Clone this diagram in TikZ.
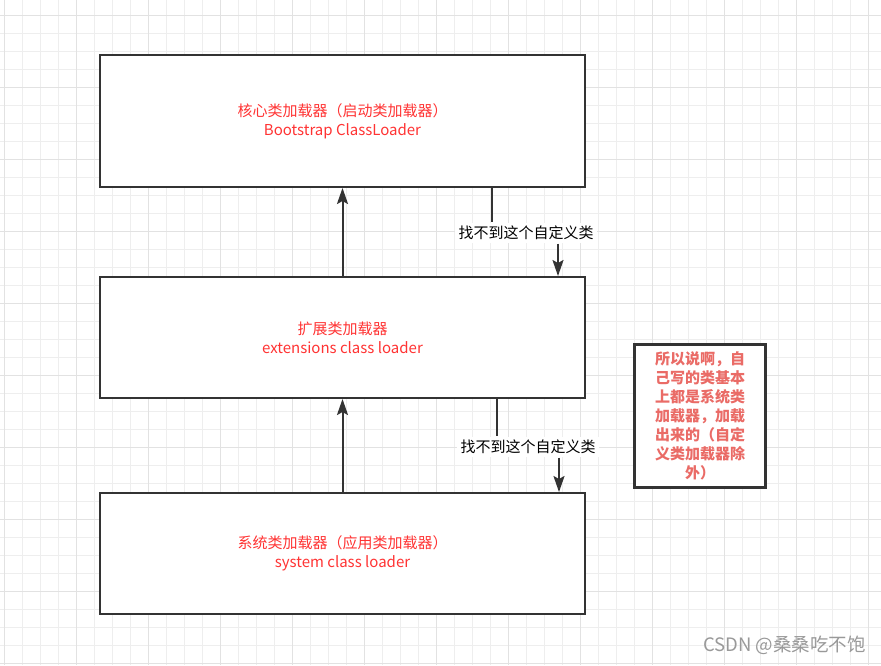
\documentclass[tikz,border=0pt]{standalone}
\usepackage{fontspec}
\setmainfont{Noto Sans CJK SC}
\usetikzlibrary{arrows.meta}
\definecolor{gridlt}{HTML}{EEEEEE}
\definecolor{griddk}{HTML}{E2E2E2}
\definecolor{boxline}{HTML}{333333}
\definecolor{txtred}{HTML}{FF3333}
\definecolor{notered}{HTML}{EA6B66}
\definecolor{markgray}{HTML}{999999}

\begin{document}
\begin{tikzpicture}[>={Stealth[length=16pt,width=11pt,inset=3pt]},x=1pt,y=-1pt,
  font=\fontsize{15}{19}\selectfont,
  loader/.style={draw=boxline,line width=2pt,fill=white,minimum width=485pt,
                 text=txtred,align=center},
  link/.style={boxline,line width=2pt},
  misslabel/.style={fill=white,inner sep=3.5pt,text=black}]

  % --- background grid ---
  \useasboundingbox (0,0) rectangle (881,665);
  \fill[white] (0,0) rectangle (881,665);
  \foreach \gx in {4,22,...,868}
    \draw[gridlt,line width=1pt] (\gx,0) -- (\gx,665);
  \foreach \gy in {15,33,...,663}
    \draw[gridlt,line width=1pt] (0,\gy) -- (881,\gy);
  \foreach \gx in {4,76,...,868}
    \draw[griddk,line width=1pt] (\gx,0) -- (\gx,665);
  \foreach \gy in {15,87,...,663}
    \draw[griddk,line width=1pt] (0,\gy) -- (881,\gy);

  % --- loaders ---
  \node[loader,minimum height=132pt] (core) at (342.5,121)
    {核心类加载器（启动类加载器）\\Bootstrap ClassLoader};
  \node[loader,minimum height=121pt] (ext) at (342.5,337.5)
    {扩展类加载器\\extensions class loader};
  \node[loader,minimum height=121pt] (sys) at (342.5,553.5)
    {系统类加载器（应用类加载器）\\system class loader};

  % --- delegation upwards ---
  \draw[link,->] (sys) -- (ext);
  \draw[link,->] (ext) -- (core);

  % --- not found, back down ---
  \node[misslabel] (miss1) at (526,233) {找不到这个自定义类};
  \node[misslabel] (miss2) at (528,447) {找不到这个自定义类};
  \coordinate (miss1from) at ([xshift=-94pt]core.south east);
  \coordinate (miss1to) at ([xshift=-28pt]ext.north east);
  \coordinate (miss2from) at ([xshift=-89pt]ext.south east);
  \coordinate (miss2to) at ([xshift=-27pt]sys.north east);
  \draw[link] (miss1from) -- (miss1from |- miss1.north);
  \draw[link,->] (miss1to |- miss1.south) -- (miss1to);
  \draw[link] (miss2from) -- (miss2from |- miss2.north);
  \draw[link,->] (miss2to |- miss2.south) -- (miss2to);

  % --- note ---
  \node[draw=boxline,line width=2.4pt,fill=white,minimum width=131pt,
        minimum height=143pt,text=notered,align=center,
        font=\fontsize{15}{19}\selectfont\bfseries] (note) at (700,416)
    {所以说啊，自\\己写的类基本\\上都是系统类\\加载器，加载\\出来的（自定\\义类加载器除\\外）};

  % --- watermark ---
  \node[markgray,anchor=east,inner sep=0pt,font=\fontsize{18.5}{20}\selectfont]
    (mark) at (866,645) {CSDN @桑桑吃不饱};

\end{tikzpicture}
\end{document}
